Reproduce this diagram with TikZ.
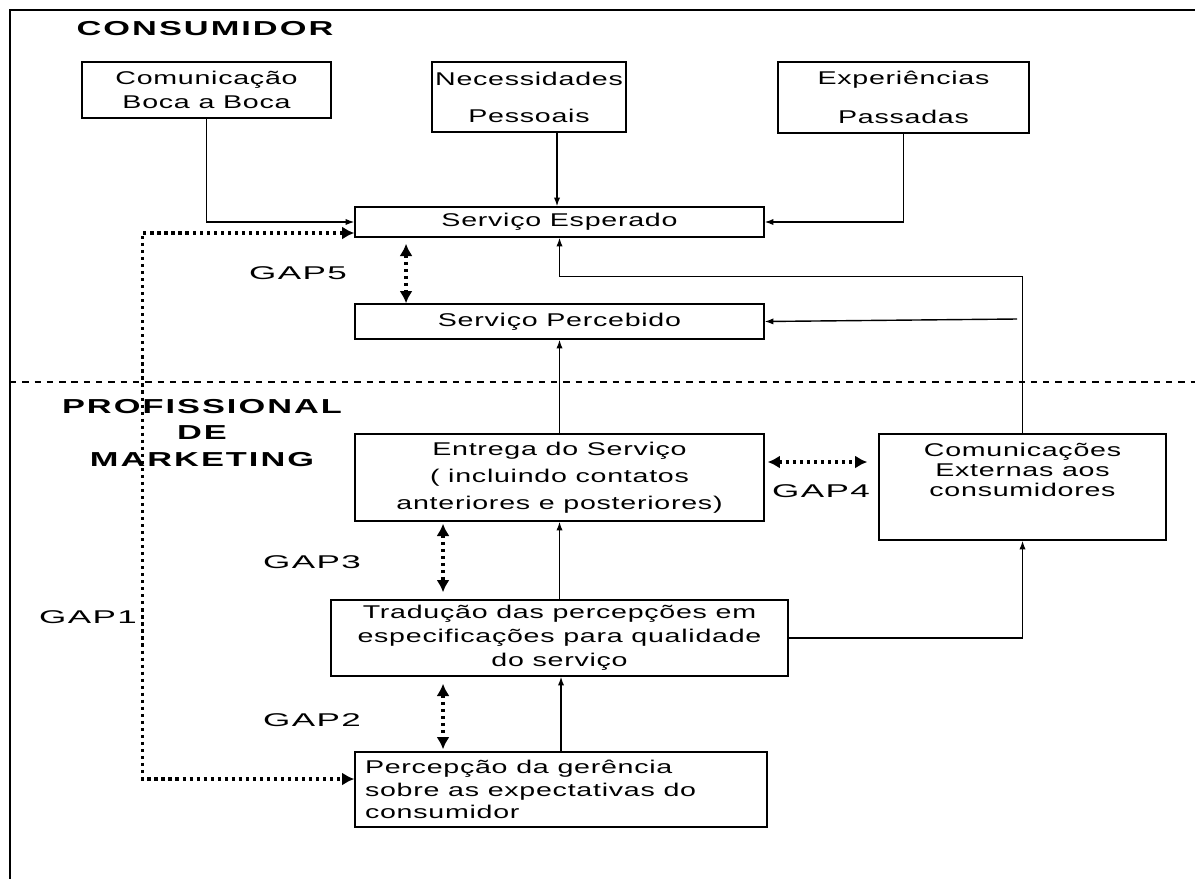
\documentclass[tikz,border=0pt]{standalone}
\usepackage{fontspec}
\setmainfont{Liberation Sans}
\newfontfamily\boxfont{Liberation Sans}[FakeStretch=1.55,LetterSpace=4]
\newfontfamily\headfont{Liberation Sans}[FakeStretch=1.7,LetterSpace=10]
\newfontfamily\gapfont{Liberation Sans}[FakeStretch=1.9,LetterSpace=8]
\usetikzlibrary{arrows.meta}

\begin{document}
\begin{tikzpicture}[x=0.02cm,y=-0.02cm]
	\tikzset{box/.style = {draw, line width=.8pt, inner sep=0pt, align=center, font=\boxfont\fontsize{10.5}{13.6}\selectfont}}
	\tikzset{boxtext/.style = {align=center, font=\boxfont\fontsize{10.5}{11.3}\selectfont}}
	\tikzset{edge/.style = {->, > = {Latex[length=5pt,width=3.6pt]}, line width=.8pt}}
	\tikzset{gap/.style = {<->, > = {Latex[length=7pt,width=7.5pt]}, line width=1.8pt, dash pattern=on 1.8pt off 2.2pt}}
	\tikzset{gaplabel/.style = {font=\gapfont\fontsize{10.5}{12}\selectfont}}
	\tikzset{head/.style = {align=center, font=\headfont\bfseries\fontsize{11.5}{15.3}\selectfont}}
	\useasboundingbox (0,0) rectangle (1195,879);
	% frame and border between consumer and marketer
	\draw[line width=1.6pt] (1195,10) -- (10,10) -- (10,879);
	\draw[line width=1.6pt, dash pattern=on 3.6pt off 3.4pt] (10,382) -- (1195,382);
	\node[head] (consum) at (205,29) {CONSUMIDOR};
	\node[head] (prof) at (202,433) {PROFISSIONAL\\DE\\MARKETING};
	% boxes
	\node[box, minimum width=4.98cm, minimum height=1.12cm] (boca) at (206.5,90) {Comunicação\\Boca a Boca};
	\node[box, minimum width=3.88cm, minimum height=1.4cm] (necess) at (529,97) {Necessidades\\[7.4pt]Pessoais};
	\node[box, minimum width=5.02cm, minimum height=1.42cm] (exper) at (903.5,97.5) {Experiências\\[8.4pt]Passadas};
	\node[box, minimum width=8.18cm, minimum height=0.6cm] (esper) at (559.5,222) {Serviço Esperado};
	\node[box, minimum width=8.18cm, minimum height=0.7cm] (perceb) at (559.5,321.5) {Serviço Percebido};
	\node[box, minimum width=8.18cm, minimum height=1.74cm] (entrega) at (559.5,477.5) {Entrega do Serviço\\[1.7pt]( incluindo contatos\\[1.7pt]anteriores e posteriores)};
	\node[box, minimum width=5.74cm, minimum height=2.12cm] (comext) at (1022.5,487) {};
	\node[boxtext] (comexttxt) at (1022.5,470) {Comunicações\\Externas aos\\consumidores};
	\node[box, minimum width=9.14cm, minimum height=1.52cm] (tradu) at (559.5,638) {Tradução das percepções em\\especificações para qualidade\\do serviço};
	\node[box, align=flush left, text width=7.84cm, inner xsep=0.2cm, minimum height=1.5cm, font=\boxfont\fontsize{10.5}{12.8}\selectfont] (percep) at (561,789.5) {Percepção da gerência\\sobre as expectativas do\\consumidor};
	% gap labels
	\node[gaplabel] (gap5) at (298,273) {GAP5};
	\node[gaplabel] (gap4) at (821,491) {GAP4};
	\node[gaplabel] (gap3) at (312,562) {GAP3};
	\node[gaplabel] (gap1) at (88,617) {GAP1};
	\node[gaplabel] (gap2) at (312,720) {GAP2};
	% solid connectors
	\draw[edge] (boca.south) |- (esper.west);
	\draw[edge] ([xshift=0.56cm]necess.south) -- ([xshift=0.56cm]necess.south |- esper.north);
	\draw[edge] (exper.south) |- (esper.east);
	\draw[edge] (comext.north) |- ([yshift=-0.78cm]esper.south) -- (esper.south);
	\coordinate (tap) at (1017,319);
	\draw[edge] (tap) -- (perceb.east);
	\draw[edge] (entrega) -- (perceb);
	\draw[edge] (tradu) -- (entrega);
	\draw[edge] (percep.north) -- (percep.north |- tradu.south);
	\draw[edge] (tradu.east) -| (comext.south);
	% gaps
	\draw[gap] ([yshift=-0.22cm]esper.west) -- ++(-212,0) |- ([yshift=0.21cm]percep.west);
	\draw[gap, shorten <=0.12cm] ([xshift=-3.07cm]esper.south) -- ([xshift=-3.07cm]perceb.north);
	\draw[gap, shorten <=0.04cm, shorten >=0.14cm] ([xshift=-2.33cm]entrega.south) -- ([xshift=-2.33cm]entrega.south |- tradu.north);
	\draw[gap, shorten <=0.14cm, shorten >=0.04cm] ([xshift=-2.33cm]tradu.south) -- ([xshift=-2.33cm]tradu.south |- percep.north);
	\draw[gap, shorten <=0.06cm, shorten >=0.22cm] ([yshift=0.31cm]entrega.east) -- ([yshift=0.31cm]entrega.east -| comext.west);
\end{tikzpicture}
\end{document}
